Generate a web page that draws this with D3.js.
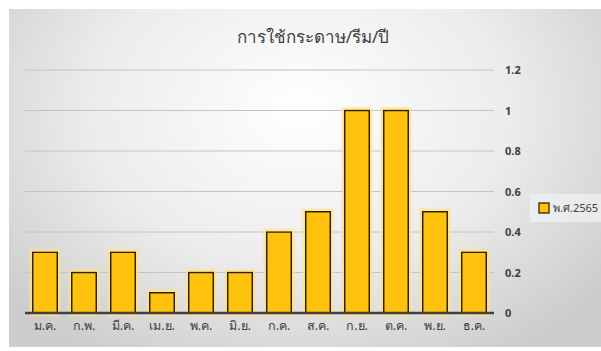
<!DOCTYPE html>
<html lang="th">
<head>
  <meta charset="UTF-8">
  <title>การใช้กระดาษ/รีม/ปี</title>
  <script src="https://d3js.org/d3.v7.min.js"></script>
  <style>
    body { margin: 0; background: #fff; }
    text { font-family: "Noto Sans", "DejaVu Sans", sans-serif; }
  </style>
</head>
<body>
  <div id="chart"></div>
  <script>
    // ข้อมูล
    var months = ["ม.ค.", "ก.พ.", "มี.ค.", "เม.ย.", "พ.ค.", "มิ.ย.", "ก.ค.", "ส.ค.", "ก.ย.", "ต.ค.", "พ.ย.", "ธ.ค."];
    var values = [0.3, 0.2, 0.3, 0.1, 0.2, 0.2, 0.4, 0.5, 1, 1, 0.5, 0.3];
    var yTicks = [0, 0.2, 0.4, 0.6, 0.8, 1, 1.2];
    var seriesName = "พ.ศ.2565";
    var title = "การใช้กระดาษ/รีม/ปี";

    var W = 601, H = 351;
    var svg = d3.select("#chart").append("svg")
      .attr("width", W).attr("height", H);

    // background gradient like excel style
    var defs = svg.append("defs");
    var grad = defs.append("radialGradient").attr("id", "bg")
      .attr("gradientUnits", "userSpaceOnUse")
      .attr("cx", 300).attr("cy", 110).attr("r", 380)
      .attr("gradientTransform", "translate(300,110) scale(1,0.75) translate(-300,-110)");
    grad.append("stop").attr("offset", "0%").attr("stop-color", "#ffffff");
    grad.append("stop").attr("offset", "55%").attr("stop-color", "#ececec");
    grad.append("stop").attr("offset", "100%").attr("stop-color", "#cdcdcd");

    var glow = defs.append("filter").attr("id", "glow")
      .attr("x", "-30%").attr("y", "-30%").attr("width", "160%").attr("height", "160%");
    glow.append("feMorphology").attr("in", "SourceAlpha").attr("operator", "dilate").attr("radius", 1.5).attr("result", "d");
    glow.append("feGaussianBlur").attr("in", "d").attr("stdDeviation", 1).attr("result", "b");
    glow.append("feFlood").attr("flood-color", "#ffe28a").attr("result", "c");
    glow.append("feComposite").attr("in", "c").attr("in2", "b").attr("operator", "in").attr("result", "g");
    var mg = glow.append("feMerge");
    mg.append("feMergeNode").attr("in", "g");
    mg.append("feMergeNode").attr("in", "SourceGraphic");

    svg.append("rect").attr("x", 9).attr("y", 9).attr("width", W - 9).attr("height", 338)
      .attr("fill", "url(#bg)");

    // title
    svg.append("text").attr("x", 313).attr("y", 43).attr("text-anchor", "middle")
      .attr("font-size", 17).attr("fill", "#404040").text(title);

    var x = d3.scaleBand().domain(months).range([25.5, 493.5]).paddingInner(0.37).paddingOuter(0.185);
    var y = d3.scaleLinear().domain([0, 1.2]).range([313, 70]);

    // gridlines
    svg.append("g").selectAll("line").data(yTicks.filter(function(d) { return d > 0; }))
      .enter().append("line")
      .attr("x1", 25).attr("x2", 494)
      .attr("y1", function(d) { return y(d); }).attr("y2", function(d) { return y(d); })
      .attr("stroke", "#c4c4c4").attr("stroke-width", 1);

    // right axis labels
    var yAxis = svg.append("g").attr("transform", "translate(494,0)")
      .call(d3.axisRight(y).tickValues(yTicks).tickSize(0).tickPadding(11).tickFormat(function(d) { return d3.format("~g")(d); }));
    yAxis.select(".domain").remove();
    yAxis.selectAll("text").attr("font-size", 11).attr("fill", "#404040").attr("font-weight", "bold")
      .style("font-family", "'Noto Sans', sans-serif");

    // bars
    svg.append("g").selectAll("rect").data(values).enter().append("rect")
      .attr("x", function(d, i) { return x(months[i]); })
      .attr("y", function(d) { return y(d); })
      .attr("width", x.bandwidth())
      .attr("height", function(d) { return y(0) - y(d); })
      .attr("fill", "#ffc20e")
      .attr("stroke", "#2e2410").attr("stroke-width", 1.5)
      .attr("filter", "url(#glow)");

    // baseline
    svg.append("line").attr("x1", 25).attr("x2", 494).attr("y1", y(0)).attr("y2", y(0))
      .attr("stroke", "#404040").attr("stroke-width", 2.5);

    // x labels
    var xAxis = svg.append("g").attr("transform", "translate(0," + y(0) + ")")
      .call(d3.axisBottom(x).tickSize(0).tickPadding(8));
    xAxis.select(".domain").remove();
    xAxis.selectAll("text").attr("font-size", 12.5).attr("fill", "#404040")
      .style("font-family", "'Noto Sans', sans-serif");

    // legend
    var lg = svg.append("g").attr("transform", "translate(530,194)");
    lg.append("rect").attr("width", 71).attr("height", 28).attr("fill", "#f2f2f2").attr("opacity", 0.7);
    lg.append("rect").attr("x", 9).attr("y", 9).attr("width", 10).attr("height", 10)
      .attr("fill", "#ffc20e").attr("stroke", "#2e2410").attr("stroke-width", 1.3);
    lg.append("text").attr("x", 23).attr("y", 18).attr("font-size", 11).attr("fill", "#404040").text(seriesName);
  </script>
</body>
</html>
